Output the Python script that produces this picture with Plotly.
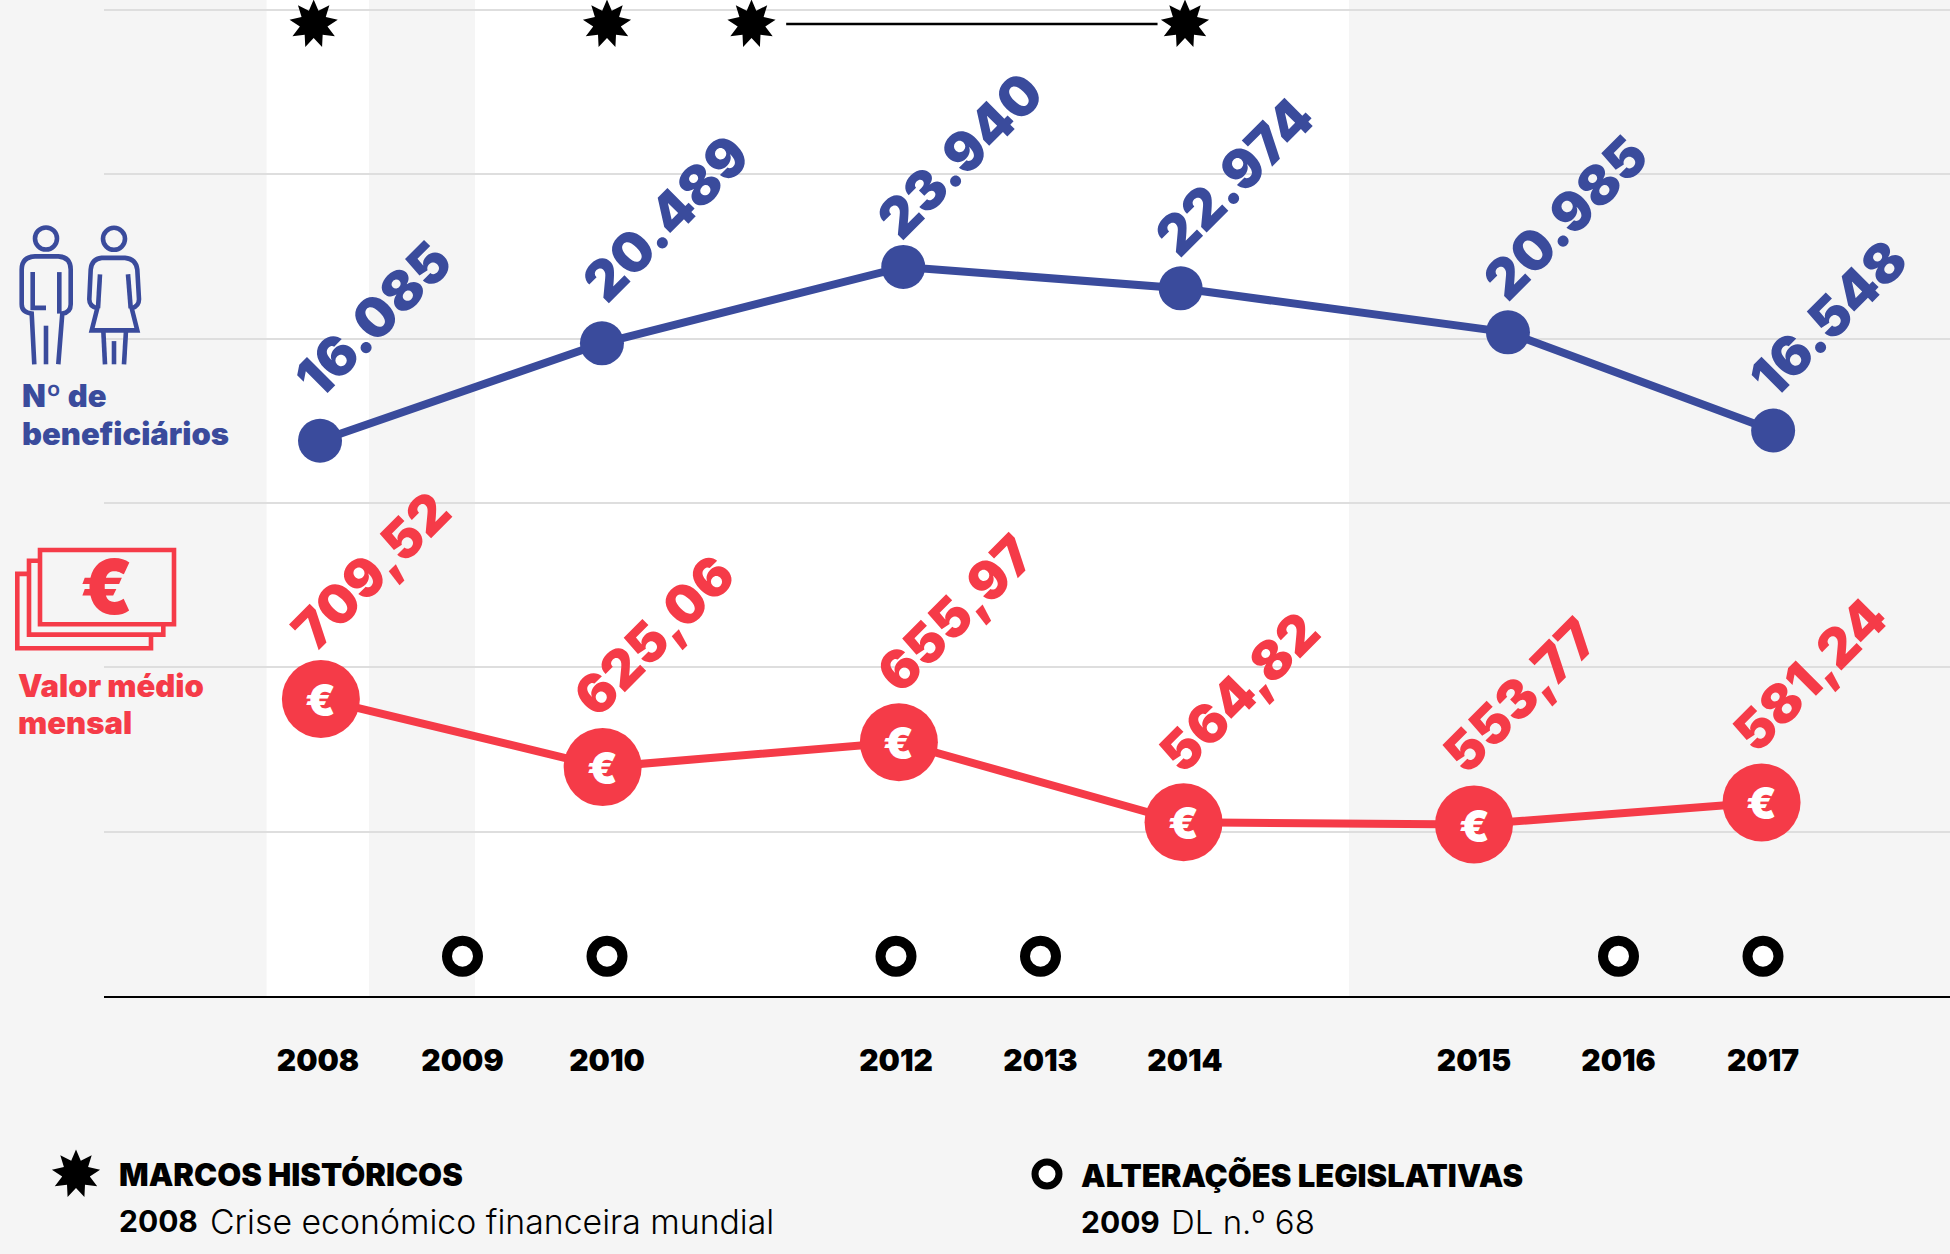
import math
import plotly.graph_objects as go

W, H = 1950, 1254
BG = "#F5F5F5"; BLUE = "#3A4B9C"; RED = "#F53B48"; GRID = "#DEDEDE"
FONT = "Inter"

# ---- data ----
year_labels = ["2008", "2009", "2010", "2012", "2013", "2014", "2015", "2016", "2017"]
year_slots = [0, 1, 2, 4, 5, 6, 8, 9, 10]

blue_slots = [0.014, 1.965, 4.05, 5.97, 8.235, 10.07]
blue_values = [16085, 20489, 23940, 22974, 20985, 16548]
blue_labels = ["16.085", "20.489", "23.940", "22.974", "20.985", "16.548"]

red_slots = [0.02, 1.97, 4.02, 5.99, 8.0, 9.99]
red_values = [709.52, 625.06, 655.97, 556.5, 553.77, 581.24]
red_labels = ["709,52", "625,06", "655,97", "564,82", "553,77", "581,24"]

law_slots = [1, 2, 4, 5, 9, 10]
law_row = [-7200] * 6
milestone_slots = [-0.03, 2, 3, 6]
milestone_row = [34915] * 4

# ---- label offsets in px from each point ----
blue_off = [(53, 122), (64, 125), (57, 112), (54, 112), (58, 115), (55, 113)]
red_off = [(50, 129), (51, 132), (56, 129), (55, 130), (46, 129), (48, 128)]

X0 = 104
slot_px = 144.5
xrange_main = [(X0 - 318) / slot_px, (W - 318) / slot_px]

fig = go.Figure()
fig.add_trace(go.Scatter(x=blue_slots, y=blue_values, mode="lines+markers",
                         line=dict(color=BLUE, width=8), marker=dict(size=44, color=BLUE),
                         xaxis="x", yaxis="y", hoverinfo="skip", showlegend=False))
fig.add_trace(go.Scatter(x=red_slots, y=red_values, mode="lines+markers",
                         line=dict(color=RED, width=8), marker=dict(size=78, color=RED),
                         xaxis="x", yaxis="y2", hoverinfo="skip", showlegend=False))
fig.add_trace(go.Scatter(x=law_slots, y=law_row, mode="markers",
                         marker=dict(size=31, color="white", line=dict(color="black", width=10)),
                         xaxis="x", yaxis="y", hoverinfo="skip", showlegend=False))

ann = []
def a_px(x, y, text, size, color="black", weight=400, xanchor="left", angle=0):
    ann.append(dict(x=x / W, y=1 - y / H, xref="paper", yref="paper", text=text, showarrow=False,
                    xanchor=xanchor, yanchor="middle", textangle=angle,
                    font=dict(family=FONT, size=size, color=color, weight=weight)))

for sx, v in zip(red_slots, red_values):
    ann.append(dict(x=sx, y=v, xref="x", yref="y2", text="€", showarrow=False, yshift=-1,
                    font=dict(family=FONT, size=44, color="white", weight=900)))
for sx, v, t, (dx, dy) in zip(blue_slots, blue_values, blue_labels, blue_off):
    ann.append(dict(x=sx, y=v, xref="x", yref="y", text=t, showarrow=False, textangle=-45,
                    xshift=dx, yshift=dy, font=dict(family=FONT, size=55, color=BLUE, weight=900)))
for sx, v, t, (dx, dy) in zip(red_slots, red_values, red_labels, red_off):
    ann.append(dict(x=sx, y=v, xref="x", yref="y2", text=t, showarrow=False, textangle=-45,
                    xshift=dx, yshift=dy, font=dict(family=FONT, size=54, color=RED, weight=900)))

a_px(20, 395, "Nº de", 31, BLUE, 900)
a_px(20, 433, "beneficiários", 31, BLUE, 900)
a_px(16, 685, "Valor médio", 31, RED, 900)
a_px(16, 722, "mensal", 31, RED, 900)
a_px(106, 586, "€", 76, RED, 900, xanchor="center")
a_px(117, 1174, "MARCOS HISTÓRICOS", 31, "black", 900)
a_px(117, 1221, "<b>2008</b>", 30, "black", 800)
a_px(208, 1221, "Crise económico financeira mundial", 33.8, "black", 300)
a_px(1079, 1175, "ALTERAÇÕES LEGISLATIVAS", 31, "black", 900)
a_px(1079, 1222, "<b>2009</b>", 30, "black", 800)
a_px(1169, 1222, "DL n.º 68", 33, "black", 300)

shapes = []
# white bands
for a, b in [(-0.356, 0.353), (1.087, 7.135)]:
    shapes.append(dict(type="rect", xref="x", yref="y domain", x0=a, x1=b, y0=0, y1=1,
                       fillcolor="white", line_width=0, layer="below"))

def star(r_out=24.5, r_in=14, n=9):
    pts = []
    for i in range(2 * n):
        r = r_out if i % 2 == 0 else r_in
        t = math.pi * i / n
        pts.append((r * math.sin(t), r * math.cos(t)))
    return "M " + " L ".join(f"{x:.1f} {y:.1f}" for x, y in pts) + " Z"

for s, v in zip(milestone_slots, milestone_row):
    shapes.append(dict(type="path", xref="x", yref="y", xsizemode="pixel", ysizemode="pixel",
                       xanchor=s, yanchor=v, path=star(), fillcolor="black", line_width=0, layer="above"))
# duration line between the 2011 and 2014 milestones
shapes.append(dict(type="line", xref="x", yref="y", x0=3.24, x1=5.81, y0=34915, y1=34915,
                   line=dict(color="black", width=2.5)))

# overlay (page px) decorations
def P(d, color, w, fill=None):
    shapes.append(dict(type="path", xref="x2", yref="y3", path=d, line=dict(color=color, width=w),
                       fillcolor=fill if fill else "rgba(0,0,0,0)", layer="above"))

def C(cx, cy, r, color, w, fill=None):
    shapes.append(dict(type="circle", xref="x2", yref="y3", x0=cx - r, x1=cx + r, y0=cy - r, y1=cy + r,
                       line=dict(color=color, width=w), fillcolor=fill if fill else "rgba(0,0,0,0)", layer="above"))

def crop_path(cmds):
    out = []
    for c in cmds:
        if isinstance(c, str):
            out.append(c)
        else:
            out.append(f"{c[0] / 3:.1f},{c[1] / 2.8 + 200:.1f}")
    return " ".join(out)

lw = 4.6
C(46, 238.5, 11, BLUE, lw)
C(114, 238.8, 11, BLUE, lw)
P(crop_path(["M", (103, 460), "L", (95, 318), "Q", (65, 315), (65, 292), "L", (65, 195), "Q", (65, 160), (105, 158),
             "L", (175, 158), "Q", (212, 160), (212, 195), "L", (212, 292), "Q", (212, 315), (187, 318), "L", (175, 460)]), BLUE, lw)
P(crop_path(["M", (98, 202), "L", (98, 302), "L", (138, 302)]), BLUE, lw)
P(crop_path(["M", (178, 202), "L", (178, 318)]), BLUE, lw)
P(crop_path(["M", (138, 352), "L", (138, 460)]), BLUE, lw)
P(crop_path(["M", (292, 303), "Q", (268, 298), (268, 278), "L", (272, 195), "Q", (275, 165), (305, 162), "L", (375, 162),
             "Q", (408, 165), (412, 195), "L", (417, 278), "Q", (417, 298), (395, 303), "L", (412, 365), "L", (275, 365), "Z"]), BLUE, lw)
P(crop_path(["M", (300, 208), "L", (294, 303)]), BLUE, lw)
P(crop_path(["M", (384, 208), "L", (392, 303)]), BLUE, lw)
P(crop_path(["M", (310, 365), "L", (315, 460)]), BLUE, lw)
P(crop_path(["M", (378, 365), "L", (372, 460)]), BLUE, lw)
P(crop_path(["M", (342, 395), "L", (342, 460)]), BLUE, lw)

mw = 4.6
P(crop_path(["M", (120, 980), "L", (522, 980), "L", (522, 1188), "L", (120, 1188), "Z"]), RED, mw)
P(crop_path(["M", (118, 1010), "L", (87, 1010), "L", (87, 1217), "L", (490, 1217), "L", (490, 1190)]), RED, mw)
P(crop_path(["M", (87, 1047), "L", (52, 1047), "L", (52, 1255), "L", (453, 1255), "L", (453, 1220)]), RED, mw)

# footer legend symbols
shapes.append(dict(type="path", xref="x2", yref="y3", xsizemode="pixel", ysizemode="pixel",
                   xanchor=76, yanchor=1174, path=star(), fillcolor="black", line_width=0))
C(1047, 1174, 12, "black", 7, "white")

fig.update_layout(
    width=W, height=H, margin=dict(l=0, r=0, t=0, b=0),
    paper_bgcolor=BG, plot_bgcolor="rgba(0,0,0,0)", showlegend=False,
    font=dict(family=FONT),
    xaxis=dict(domain=[X0 / W, 1], range=xrange_main, tickmode="array", tickvals=year_slots, ticktext=year_labels,
               showgrid=False, zeroline=False, showline=True, linecolor="black", linewidth=2,
               ticks="outside", ticklen=37, tickcolor="rgba(0,0,0,0)", anchor="y",
               tickfont=dict(family=FONT, size=30, color="black", weight=900)),
    yaxis=dict(domain=[1 - 996 / H, 1], range=[-9000, 36000], tick0=-9000, dtick=7425, showgrid=True,
               gridcolor=GRID, gridwidth=2, showticklabels=False, zeroline=False, ticks="", showline=False),
    yaxis2=dict(domain=[1 - 996 / H, 1], range=[341, 1577], overlaying="y", showgrid=False, showticklabels=False,
                zeroline=False, ticks="", showline=False),
    xaxis2=dict(domain=[0, 1], range=[0, W], visible=False, anchor="y3"),
    yaxis3=dict(domain=[0, 1], range=[H, 0], visible=False, anchor="x2"),
    shapes=shapes, annotations=ann,
)
# give the overlay axes a carrier so they stay registered
fig.add_trace(go.Scatter(x=[0], y=[0], xaxis="x2", yaxis="y3", mode="markers", marker=dict(opacity=0),
                         hoverinfo="skip", showlegend=False))
fig.write_html("out.html", config=dict(displayModeBar=False),
               post_script="document.body.style.margin='0';document.body.style.overflow='hidden';document.body.style.background='#F5F5F5';")
